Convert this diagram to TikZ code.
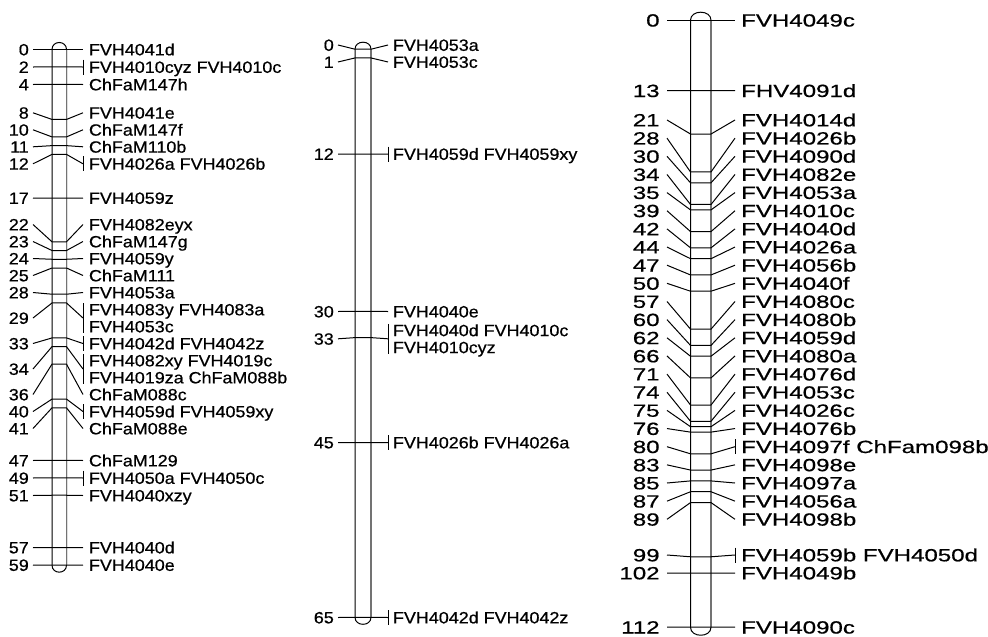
\documentclass[tikz,border=0pt]{standalone}
\usepackage{fontspec}
\setmainfont[FakeBold=0.6]{Liberation Sans}
\usepackage{graphicx}
\newcommand\NFS{\fontsize{16.3}{17}\selectfont}
\newcommand\XS{1.1}
\newcommand\CH{5.84}
\tikzset{
  numlbl/.style={anchor=base east, inner sep=0pt, font=\NFS},
  mklbl/.style={anchor=base west, inner sep=0pt, font=\NFS},
  link/.style={line width=1pt, black},
  chrom/.style={line width=1pt, black},
  chromshade/.style={line width=1.4pt, black!55},
}
% geometry holders
\newcommand\PF{A}\newcommand\NX{0}\newcommand\AX{0}\newcommand\BX{0}
\newcommand\CX{0}\newcommand\DX{0}\newcommand\TX{0}\newcommand\YZ{0}\newcommand\SC{1}
\newcommand\NF[1]{\scalebox{\XS}[1]{#1}}
% #1 id, #2 number text, #3 cM, #4 label y
\newcommand\mkline[4]{%
  \coordinate (\PF#1a) at (\AX,#4);
  \coordinate (\PF#1b) at (\BX,{\YZ+#3*\SC});
  \coordinate (\PF#1c) at (\CX,{\YZ+#3*\SC});
  \coordinate (\PF#1d) at (\DX,#4);
  \draw[link] (\PF#1a) -- (\PF#1b) -- (\PF#1c) -- (\PF#1d);
  \node[numlbl] (\PF#1n) at (\NX,{#4+\CH}) {\NF{#2}};
}
% #1 id, #2 y, #3 text, #4 suffix
\newcommand\mktext[4]{\node[mklbl] (\PF#1t#4) at (\TX,{#2+\CH}) {\NF{#3}};}
% #1 id, #2 y, #3 half-height
\newcommand\mktick[3]{%
  \coordinate (\PF#1u) at (\DX,{#2-#3});
  \coordinate (\PF#1v) at (\DX,{#2+#3});
  \draw[link] (\PF#1u) -- (\PF#1v);
}
% plain locus: id, cM, ly, text
\newcommand\lp[4]{\mkline{#1}{#1}{#2}{#3}\mktext{#1}{#3}{#4}{}}
% tick locus one line
\newcommand\lt[5]{\mkline{#1}{#1}{#2}{#3}\mktext{#1}{#3}{#4}{}\mktick{#1}{#3}{#5}}
% tick locus two lines: id, cM, ly, line1, line2, half, linegap
\newcommand\ltt[7]{\mkline{#1}{#1}{#2}{#3}%
  \mktext{#1}{#3-#7}{#4}{a}\mktext{#1}{#3+#7}{#5}{b}\mktick{#1}{#3}{#6}}
% chromosome body: yend, cap height
\newcommand\body[2]{%
  \coordinate (\PF tl) at (\BX,\YZ);
  \coordinate (\PF tr) at (\CX,\YZ);
  \coordinate (\PF bl) at (\BX,{\YZ+#1*\SC});
  \coordinate (\PF br) at (\CX,{\YZ+#1*\SC});
  \draw[chrom] (\PF bl) -- (\PF tl) .. controls +(0,{-1.333*#2}) and +(0,{-1.333*#2}) .. (\PF tr)
     -- (\PF br) .. controls +(0,{1.333*#2}) and +(0,{1.333*#2}) .. (\PF bl) -- cycle;
  \draw[chromshade] (\PF tr) -- (\PF br);
}
\begin{document}
\begin{tikzpicture}[x=1pt,y=-1pt]
\useasboundingbox (0,0) rectangle (988,637);
% ---------------- left chromosome
\renewcommand\PF{A}\renewcommand\NX{29}\renewcommand\AX{33}\renewcommand\BX{52}
\renewcommand\CX{66.5}\renewcommand\DX{83}\renewcommand\TX{88.8}
\renewcommand\YZ{49.5}\renewcommand\SC{8.74}
\body{59}{7}
\lp{0}{0}{49.5}{FVH4041d}
\lt{2}{2}{67}{FVH4010cyz FVH4010c}{7.5}
\lp{4}{4}{84.5}{ChFaM147h}
\lp{8}{8}{112.8}{FVH4041e}
\lp{10}{10}{129.8}{ChFaM147f}
\lp{11}{11}{146.8}{ChFaM110b}
\lt{12}{12}{163.8}{FVH4026a FVH4026b}{7.5}
\lp{17}{17}{198}{FVH4059z}
\lp{22}{22}{224.5}{FVH4082eyx}
\lp{23}{23}{241.5}{ChFaM147g}
\lp{24}{24}{258.5}{FVH4059y}
\lp{25}{25}{275.5}{ChFaM111}
\lp{28}{28}{292.5}{FVH4053a}
\ltt{29}{29}{318}{FVH4083y FVH4083a}{FVH4053c}{15}{8.5}
\lt{33}{33}{343.5}{FVH4042d FVH4042z}{7.5}
\ltt{34}{34}{369}{FVH4082xy FVH4019c}{FVH4019za ChFaM088b}{15}{8.5}
\lp{36}{36}{394.5}{ChFaM088c}
\lt{40}{40}{411.5}{FVH4059d FVH4059xy}{7.5}
\lp{41}{41}{428.5}{ChFaM088e}
\lp{47}{47}{460.5}{ChFaM129}
\lt{49}{49}{478}{FVH4050a FVH4050c}{7.5}
\lp{51}{51}{495.5}{FVH4040xzy}
\lp{57}{57}{547.5}{FVH4040d}
\lp{59}{59}{565}{FVH4040e}
% ---------------- middle chromosome
\renewcommand\PF{B}\renewcommand\NX{334}\renewcommand\AX{338}\renewcommand\BX{355}
\renewcommand\CX{371}\renewcommand\DX{388}\renewcommand\TX{392.8}
\renewcommand\YZ{49.2}\renewcommand\SC{8.74}
\body{65}{7}
\lp{0}{0}{45}{FVH4053a}
\lp{1}{1}{62}{FVH4053c}
\lt{12}{12}{154}{FVH4059d FVH4059xy}{7.5}
\lp{30}{30}{311.5}{FVH4040e}
\ltt{33}{33}{338.8}{FVH4040d FVH4010c}{FVH4010cyz}{15}{8.5}
\lt{45}{45}{442.5}{FVH4026b FVH4026a}{7.5}
\lt{65}{65}{617.5}{FVH4042d FVH4042z}{7.5}
% ---------------- right chromosome
\renewcommand\PF{C}\renewcommand\NX{659.8}\renewcommand\AX{667}\renewcommand\BX{690.5}
\renewcommand\CX{711}\renewcommand\DX{735}\renewcommand\TX{741}
\renewcommand\YZ{20.2}\renewcommand\SC{5.42}
\renewcommand\NFS{\fontsize{17.7}{18}\selectfont}
\renewcommand\XS{1.36}
\renewcommand\CH{6.34}
\body{112}{8}
\lp{0}{0}{20.2}{FVH4049c}
\lp{13}{13}{90.66}{FHV4091d}
\lp{21}{21}{120}{FVH4014d}
\lp{28}{28}{138.15}{FVH4026b}
\lp{30}{30}{156.3}{FVH4090d}
\lp{34}{34}{174.45}{FVH4082e}
\lp{35}{35}{192.6}{FVH4053a}
\lp{39}{39}{210.75}{FVH4010c}
\lp{42}{42}{228.9}{FVH4040d}
\lp{44}{44}{247.05}{FVH4026a}
\lp{47}{47}{265.2}{FVH4056b}
\lp{50}{50}{283.35}{FVH4040f}
\lp{57}{57}{301.5}{FVH4080c}
\lp{60}{60}{319.65}{FVH4080b}
\lp{62}{62}{337.8}{FVH4059d}
\lp{66}{66}{355.95}{FVH4080a}
\lp{71}{71}{374.1}{FVH4076d}
\lp{74}{74}{392.25}{FVH4053c}
\lp{75}{75}{410.4}{FVH4026c}
\lp{76}{76}{428.55}{FVH4076b}
\lt{80}{80}{446.7}{FVH4097f ChFam098b}{7.5}
\lp{83}{83}{464.85}{FVH4098e}
\lp{85}{85}{483}{FVH4097a}
\lp{87}{87}{501.15}{FVH4056a}
\lp{89}{89}{519.3}{FVH4098b}
\lt{99}{99}{555}{FVH4059b FVH4050d}{7.5}
\lp{102}{102}{573}{FVH4049b}
\lp{112}{112}{627.2}{FVH4090c}
\end{tikzpicture}
\end{document}
